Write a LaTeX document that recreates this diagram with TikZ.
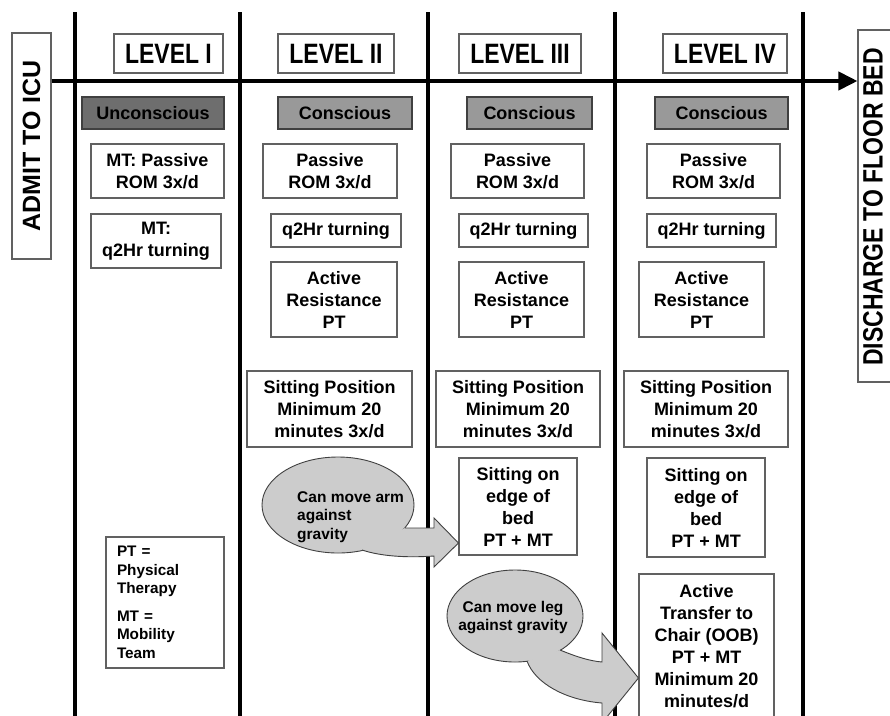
\documentclass[tikz,border=0pt]{standalone}
\usepackage{fontspec}
\setmainfont{Liberation Sans}
\newfontfamily\condfont{Liberation Sans}[FakeStretch=0.82]
\usetikzlibrary{shapes.geometric,arrows.meta}
\definecolor{boxline}{gray}{0.38}
\definecolor{darkline}{gray}{0.25}
\definecolor{darkfill}{gray}{0.43}
\definecolor{midfill}{gray}{0.6}
\definecolor{lightfill}{gray}{0.8}
\begin{document}
\begin{tikzpicture}[x=1pt,y=-1pt,
  lvl/.style={draw=boxline, line width=1.1pt, fill=white, inner sep=0pt,
    font=\condfont\bfseries\fontsize{28}{30}\selectfont},
  sidebox/.style={draw=boxline, line width=1.1pt, fill=white, inner sep=0pt},
  sidetext/.style={inner sep=0pt, rotate=90},
  box/.style={draw=boxline, line width=1.1pt, fill=white, inner sep=0pt, align=center,
    font=\bfseries\fontsize{18}{22}\selectfont},
  status/.style={box, draw=darkline},
  oval/.style={ellipse, draw=darkline, fill=lightfill, line width=0.9pt, inner sep=0pt},
  ovaltext/.style={inner sep=0pt, font=\bfseries\fontsize{15.5}{18.5}\selectfont},
  blockfill/.style={fill=lightfill},
  blockedge/.style={draw=darkline, line width=0.9pt, line join=miter},
  divider/.style={line width=4pt},
  timeline/.style={line width=4pt, -{Triangle[length=19pt,width=18pt]}},
]
\clip (0,0) rectangle (890,715);
\fill[white] (0,0) rectangle (890,715);

% column dividers
\foreach \xx in {75,240,428,615,803}
  \draw[divider] (\xx,12) -- (\xx,720);

% side labels
\node[sidebox, rotate=90, minimum width=226pt, minimum height=39pt] (admit) at (31.5,146) {};
\node[sidetext, font=\bfseries\fontsize{25}{27}\selectfont] (admittext) at (admit.center) {ADMIT TO ICU};
\node[sidebox, rotate=90, minimum width=352pt, minimum height=40pt] (discharge) at (878,206) {};
\node[sidetext, font=\condfont\bfseries\fontsize{28}{30}\selectfont] (dischargetext) at (873,207) {DISCHARGE TO FLOOR BED};

% timeline
\draw[timeline] (admit.south |- 0,81) -- (discharge.north |- 0,81);

% level headers
\node[lvl, minimum width=109pt, minimum height=39pt] (l1) at (168.5,53.5) {LEVEL I};
\node[lvl, minimum width=116pt, minimum height=39pt] (l2) at (336,53.5) {LEVEL II};
\node[lvl, minimum width=122pt, minimum height=39pt] (l3) at (520,53.5) {LEVEL III};
\node[lvl, minimum width=124pt, minimum height=39pt] (l4) at (725,53.5) {LEVEL IV};

% status
\node[status, fill=darkfill, minimum width=142pt, minimum height=32pt] (s1) at (153,113) {Unconscious};
\node[status, fill=midfill, minimum width=134pt, minimum height=32pt] (s2) at (345,113) {Conscious};
\node[status, fill=midfill, minimum width=125pt, minimum height=32pt] (s3) at (529.5,113) {Conscious};
\node[status, fill=midfill, minimum width=133pt, minimum height=32pt] (s4) at (721.5,113) {Conscious};

% level I
\node[box, minimum width=133pt, minimum height=54pt] (p1) at (157.5,171) {MT: Passive\\ROM 3x/d};
\node[box, minimum width=130pt, minimum height=54pt] (t1) at (156,241) {MT:\\q2Hr turning};
\node[box, align=left, text width=96pt, inner xsep=11pt, minimum height=131pt,
  font=\bfseries\fontsize{15.3}{18.5}\selectfont] (legend) at (165,602.5)
  {PT =\\Physical\\Therapy\\[9pt]MT =\\Mobility\\Team};

% level II
\node[box, minimum width=134pt, minimum height=54pt] (p2) at (330,171) {Passive\\ROM 3x/d};
\node[box, minimum width=130pt, minimum height=33pt] (t2) at (336,230.5) {q2Hr turning};
\node[box, minimum width=126pt, minimum height=75pt] (a2) at (334,299.5) {Active\\Resistance\\PT};
\node[box, minimum width=165pt, minimum height=76pt] (sp2) at (329.5,409) {Sitting Position\\Minimum 20\\minutes 3x/d};

% level III
\node[box, minimum width=133pt, minimum height=54pt] (p3) at (517.5,171) {Passive\\ROM 3x/d};
\node[box, minimum width=129pt, minimum height=33pt] (t3) at (523.5,230.5) {q2Hr turning};
\node[box, minimum width=125pt, minimum height=75pt] (a3) at (521.5,299.5) {Active\\Resistance\\PT};
\node[box, minimum width=164pt, minimum height=76pt] (sp3) at (518,409) {Sitting Position\\Minimum 20\\minutes 3x/d};
\node[box, minimum width=118pt, minimum height=97pt] (e3) at (518,506.5) {Sitting on\\edge of\\bed\\PT + MT};

% level IV
\node[box, minimum width=133pt, minimum height=54pt] (p4) at (713.5,171) {Passive\\ROM 3x/d};
\node[box, minimum width=129pt, minimum height=33pt] (t4) at (711.5,230.5) {q2Hr turning};
\node[box, minimum width=125pt, minimum height=75pt] (a4) at (701.5,299.5) {Active\\Resistance\\PT};
\node[box, minimum width=164pt, minimum height=76pt] (sp4) at (706,409) {Sitting Position\\Minimum 20\\minutes 3x/d};
\node[box, minimum width=118pt, minimum height=99pt] (e4) at (706,507.5) {Sitting on\\edge of\\bed\\PT + MT};
\node[box, minimum width=135pt, minimum height=144pt] (tr4) at (706.5,646) {Active\\Transfer to\\Chair (OOB)\\PT + MT\\Minimum 20\\minutes/d};

% oval 1 + curved block arrow to e3
\node[oval, minimum width=152pt, minimum height=96pt] (arm) at (338,505) {};
\fill[blockfill] (405,528) -- (434,528) -- (434,518) -- (e3.west |- 0,543) -- (434,567) -- (434,556)
  .. controls (405,558) and (380,556) .. (362,550) -- cycle;
\draw[blockedge] (405,528) -- (434,528) -- (434,518) -- (e3.west |- 0,543) -- (434,567) -- (434,556)
  .. controls (405,558) and (380,556) .. (362,550);
\node[ovaltext, align=left, anchor=north west] (armtext) at (297,491) {Can move arm\\against\\gravity};

% oval 2 + curved block arrow to tr4
\node[oval, minimum width=136pt, minimum height=92pt] (leg) at (515,616) {};
\fill[blockfill] (560,650) .. controls (577,657) and (590,661) .. (602,662) -- (602,633) -- (tr4.west |- 0,678)
  -- (602,723) -- (602,703) .. controls (565,700) and (535,683) .. (527,661) -- cycle;
\draw[blockedge] (560,650) .. controls (577,657) and (590,661) .. (602,662) -- (602,633) -- (tr4.west |- 0,678)
  -- (602,723) -- (602,703) .. controls (565,700) and (535,683) .. (527,661);
\node[ovaltext, align=center, anchor=north] (legtext) at (513,601) {Can move leg\\against gravity};
\end{tikzpicture}
\end{document}
